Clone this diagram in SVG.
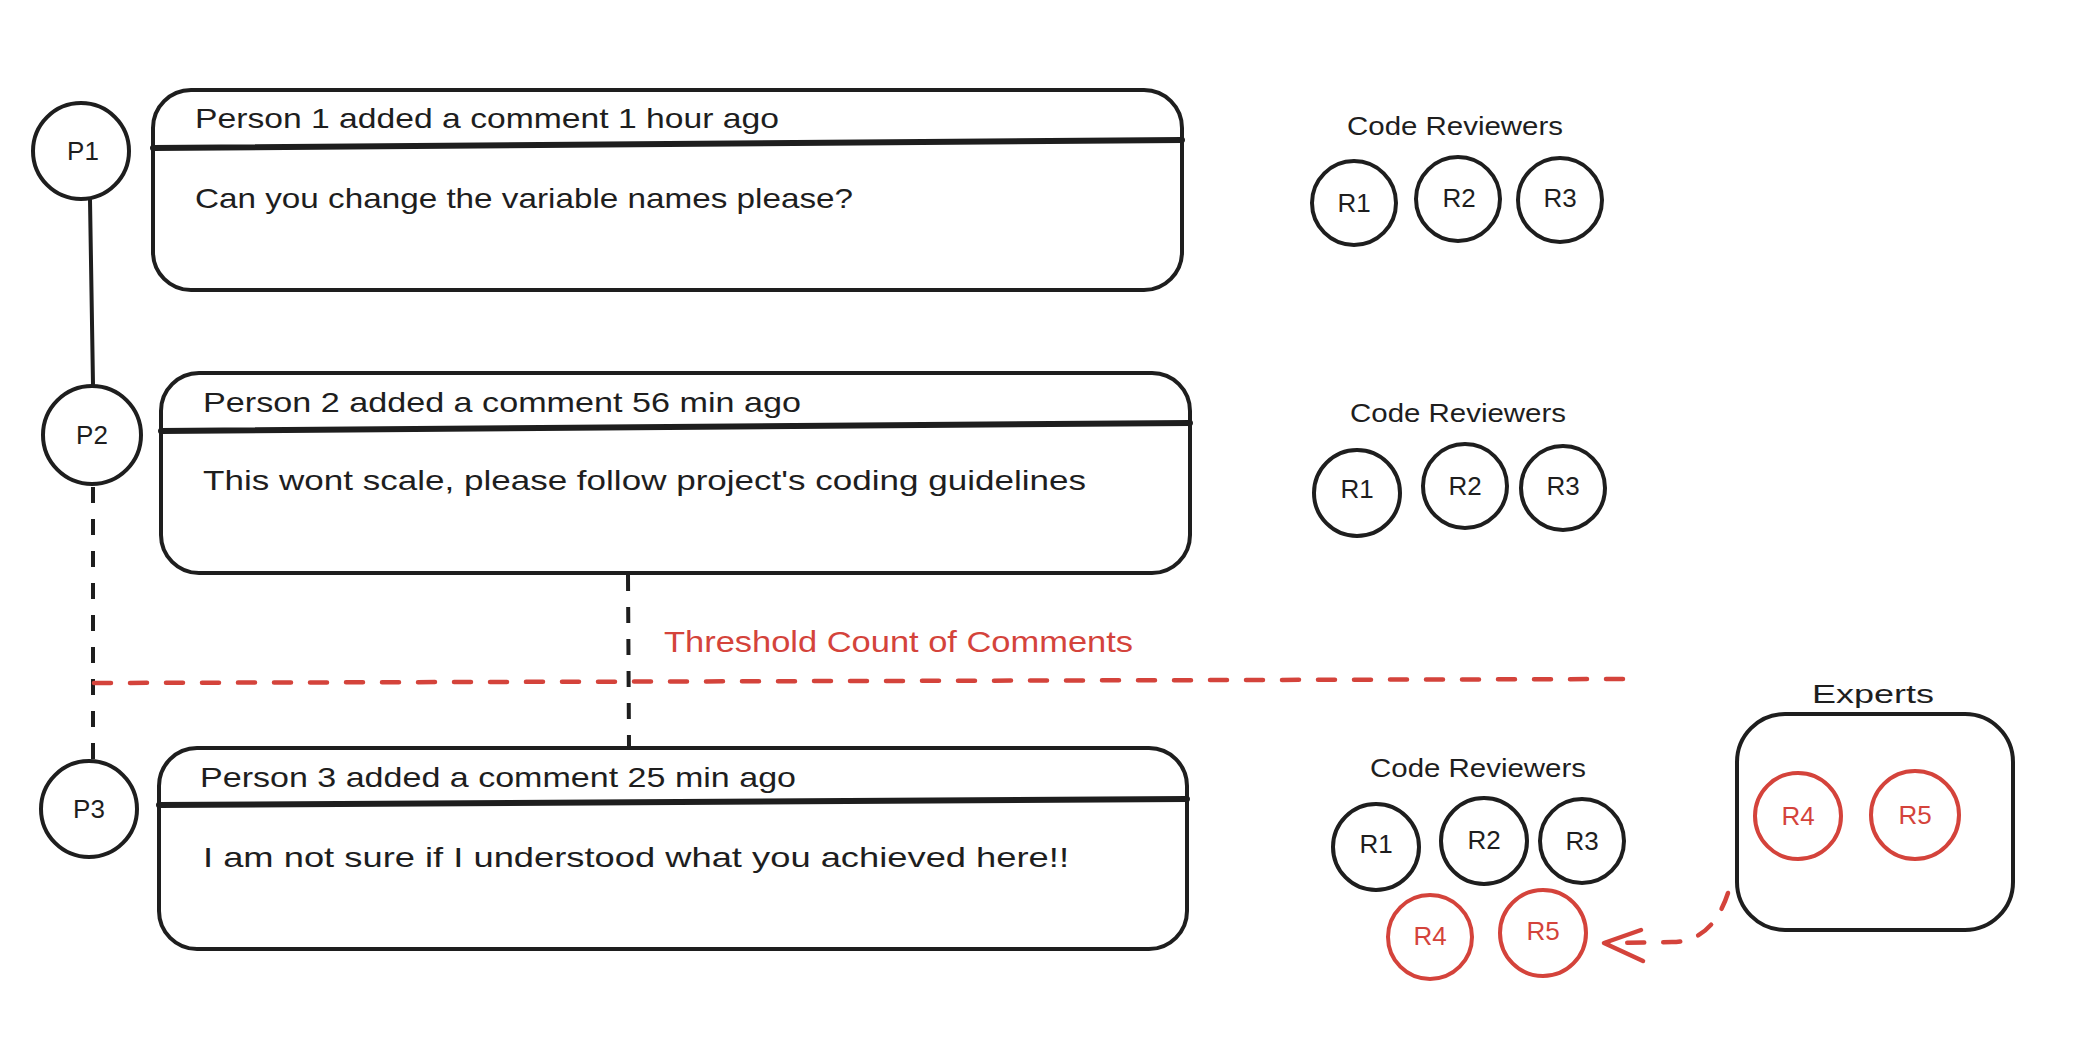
<svg xmlns="http://www.w3.org/2000/svg" width="2078" height="1046" viewBox="0 0 2078 1046">
<style>
.bg{fill:#ffffff}
.box{fill:none;stroke:#1e1e1e;stroke-width:4}
.div{stroke:#1e1e1e;stroke-width:6;stroke-linecap:round}
.ck{fill:none;stroke:#1e1e1e;stroke-width:4}
.cr{fill:none;stroke:#d4433b;stroke-width:4}
.t{font-family:"Liberation Sans",Arial,sans-serif;fill:#1e1e1e}
.tr{font-family:"Liberation Sans",Arial,sans-serif;fill:#d4433b}
.lbl{font-size:26px;text-anchor:middle}
.txt{font-size:28px}
.sol{stroke:#1e1e1e;stroke-width:4;stroke-linecap:round;fill:none}
.dk{stroke:#1e1e1e;stroke-width:4;stroke-dasharray:16 16;fill:none}
.dr{stroke:#d4433b;stroke-width:4.5;stroke-dasharray:17 19;fill:none;stroke-linecap:round}
</style>
<rect class="bg" x="0" y="0" width="2078" height="1046"/>

<g id="connectors">
  <line class="sol" x1="90" y1="200" x2="93" y2="384"/>
  <line class="dk" x1="93" y1="487" x2="93" y2="760"/>
  <line class="dk" x1="628" y1="575" x2="629" y2="747"/>
  <line class="dr" x1="94" y1="683" x2="1625" y2="679"/>
  <path class="dr" d="M 1728 893 Q 1712 942 1672 942 L 1606 943"/>
  <path d="M 1641 930 L 1604 943 L 1643 961" fill="none" stroke="#d4433b" stroke-width="4.5" stroke-linecap="round" stroke-linejoin="round"/>
</g>

<g id="threshold-label">
  <text class="tr" x="664" y="652" font-size="30" textLength="469" lengthAdjust="spacingAndGlyphs">Threshold Count of Comments</text>
</g>

<g id="P1">
  <circle class="ck" cx="81" cy="151" r="48"/>
  <text class="t lbl" x="83" y="160">P1</text>
</g>
<g id="P2">
  <circle class="ck" cx="92" cy="435" r="49"/>
  <text class="t lbl" x="92" y="444">P2</text>
</g>
<g id="P3">
  <circle class="ck" cx="89" cy="809" r="48"/>
  <text class="t lbl" x="89" y="818">P3</text>
</g>

<g id="comment1">
  <rect class="box" x="153" y="90" width="1029" height="200" rx="38"/>
  <line class="div" x1="153" y1="148" x2="1182" y2="140"/>
  <text class="t txt" x="195" y="128" textLength="584" lengthAdjust="spacingAndGlyphs">Person 1 added a comment 1 hour ago</text>
  <text class="t txt" x="195" y="208" textLength="658" lengthAdjust="spacingAndGlyphs">Can you change the variable names please?</text>
</g>
<g id="comment2">
  <rect class="box" x="161" y="373" width="1029" height="200" rx="38"/>
  <line class="div" x1="161" y1="431" x2="1190" y2="423"/>
  <text class="t txt" x="203" y="412" textLength="598" lengthAdjust="spacingAndGlyphs">Person 2 added a comment 56 min ago</text>
  <text class="t txt" x="203" y="490" textLength="883" lengthAdjust="spacingAndGlyphs">This wont scale, please follow project's coding guidelines</text>
</g>
<g id="comment3">
  <rect class="box" x="159" y="748" width="1028" height="201" rx="38"/>
  <line class="div" x1="159" y1="805" x2="1187" y2="799"/>
  <text class="t txt" x="200" y="787" textLength="596" lengthAdjust="spacingAndGlyphs">Person 3 added a comment 25 min ago</text>
  <text class="t txt" x="203" y="867" textLength="866" lengthAdjust="spacingAndGlyphs">I am not sure if I understood what you achieved here!!</text>
</g>

<g id="reviewers1">
  <text class="t" x="1347" y="135" font-size="25" textLength="216" lengthAdjust="spacingAndGlyphs">Code Reviewers</text>
  <circle class="ck" cx="1354" cy="203" r="42"/>
  <text class="t lbl" x="1354" y="212">R1</text>
  <circle class="ck" cx="1458" cy="199" r="42"/>
  <text class="t lbl" x="1459" y="207">R2</text>
  <circle class="ck" cx="1560" cy="200" r="42"/>
  <text class="t lbl" x="1560" y="207">R3</text>
</g>
<g id="reviewers2">
  <text class="t" x="1350" y="422" font-size="25" textLength="216" lengthAdjust="spacingAndGlyphs">Code Reviewers</text>
  <circle class="ck" cx="1357" cy="493" r="43"/>
  <text class="t lbl" x="1357" y="498">R1</text>
  <circle class="ck" cx="1465" cy="486" r="42"/>
  <text class="t lbl" x="1465" y="495">R2</text>
  <circle class="ck" cx="1563" cy="488" r="42"/>
  <text class="t lbl" x="1563" y="495">R3</text>
</g>
<g id="reviewers3">
  <text class="t" x="1370" y="777" font-size="25" textLength="216" lengthAdjust="spacingAndGlyphs">Code Reviewers</text>
  <circle class="ck" cx="1376" cy="847" r="43"/>
  <text class="t lbl" x="1376" y="853">R1</text>
  <circle class="ck" cx="1484" cy="841" r="43"/>
  <text class="t lbl" x="1484" y="849">R2</text>
  <circle class="ck" cx="1582" cy="841" r="42"/>
  <text class="t lbl" x="1582" y="850">R3</text>
  <circle class="cr" cx="1430" cy="937" r="42"/>
  <text class="tr lbl" x="1430" y="945">R4</text>
  <circle class="cr" cx="1543" cy="933" r="43"/>
  <text class="tr lbl" x="1543" y="940">R5</text>
</g>

<g id="experts">
  <text class="t" x="1812" y="703" font-size="25" textLength="122" lengthAdjust="spacingAndGlyphs">Experts</text>
  <rect class="box" x="1737" y="714" width="276" height="216" rx="48"/>
  <circle class="cr" cx="1798" cy="816" r="43"/>
  <text class="tr lbl" x="1798" y="825">R4</text>
  <circle class="cr" cx="1915" cy="815" r="44"/>
  <text class="tr lbl" x="1915" y="824">R5</text>
</g>
</svg>
